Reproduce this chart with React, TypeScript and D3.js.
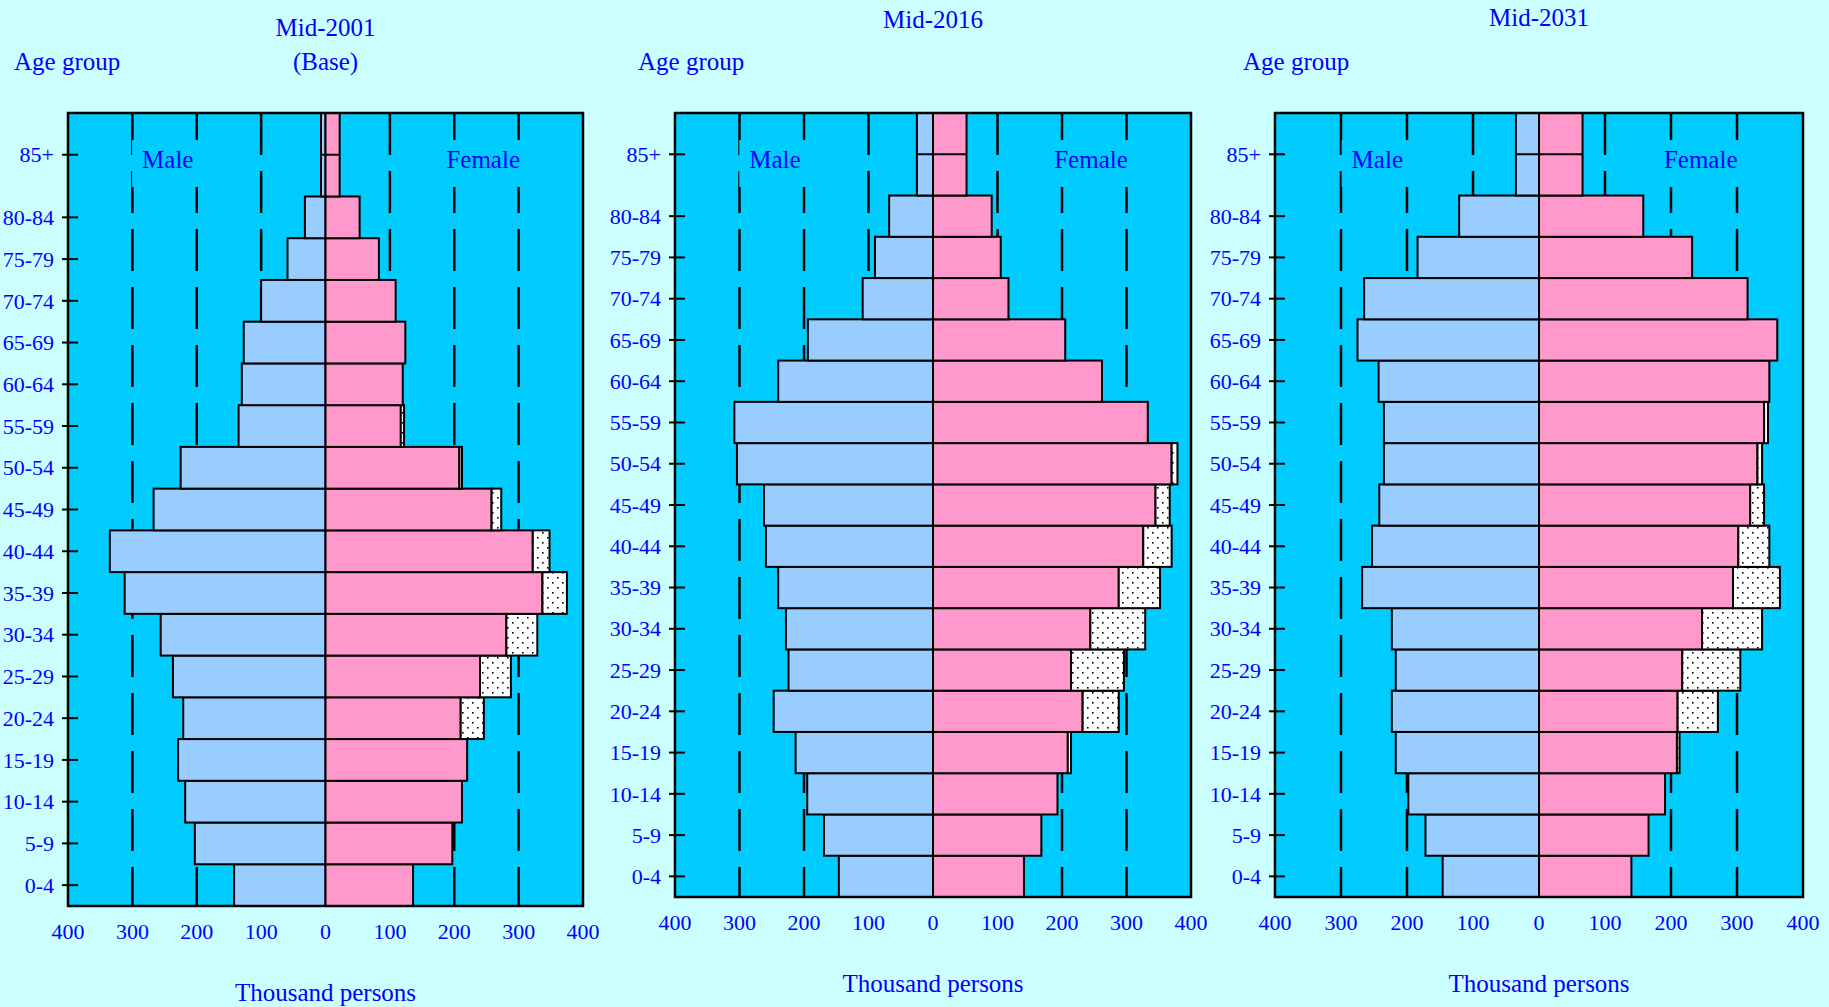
import React, { useEffect, useRef } from 'react';
import { select, scaleLinear } from 'd3';

// Age groups, bottom to top. "85+" covers two rows at the top.
const AGE_GROUPS = ['0-4', '5-9', '10-14', '15-19', '20-24', '25-29', '30-34', '35-39', '40-44',
  '45-49', '50-54', '55-59', '60-64', '65-69', '70-74', '75-79', '80-84', '85+'];

// Thousand persons
const MALE_2001 = [142, 203, 218, 229, 221, 237, 256, 312, 335, 267, 225, 135, 130, 127, 100, 59, 32, 7];
const FEMALE_2001 = [136, 197, 212, 220, 210, 240, 281, 337, 322, 258, 208, 117, 120, 124, 109, 83, 53, 22];
const EXTRA_2001 = [0, 0, 0, 0, 36, 48, 48, 38, 26, 15, 4, 5, 0, 0, 0, 0, 0, 0];

const MALE_2016 = [146, 169, 195, 213, 247, 224, 228, 240, 259, 262, 304, 308, 240, 194, 109, 90, 68, 25];
const FEMALE_2016 = [141, 168, 193, 209, 232, 214, 244, 288, 326, 345, 370, 333, 262, 205, 117, 105, 91, 52];
const EXTRA_2016 = [0, 0, 0, 5, 56, 82, 85, 64, 44, 22, 9, 0, 0, 0, 0, 0, 0, 0];

const MALE_2031 = [146, 172, 198, 217, 223, 217, 223, 268, 253, 242, 235, 235, 243, 275, 265, 184, 121, 35];
const FEMALE_2031 = [140, 166, 191, 209, 210, 217, 247, 294, 302, 320, 331, 341, 349, 361, 316, 232, 158, 66];
const EXTRA_2031 = [0, 0, 0, 4, 61, 88, 91, 71, 47, 21, 7, 6, 0, 0, 0, 0, 0, 0];

const X_TICKS = [-400, -300, -200, -100, 0, 100, 200, 300, 400];
const GRID_LINES = [-300, -200, -100, 100, 200, 300];

const PAGE_BG = '#ccffff';
const PLOT_BG = '#00ccff';
const MALE_COLOR = '#99ccff';
const FEMALE_COLOR = '#ff99cc';
const TEXT_COLOR = '#0000ff';
const FONT = '"Liberation Serif", "DejaVu Serif", serif';

const panels = [
  { title: ['Mid-2001', '(Base)'], titleY: 36, ageX: 14, left: 68, right: 583, top: 113, bottom: 906,
    male: MALE_2001, female: FEMALE_2001, extra: EXTRA_2001 },
  { title: ['Mid-2016'], titleY: 28, ageX: 638, left: 675, right: 1191, top: 113, bottom: 897,
    male: MALE_2016, female: FEMALE_2016, extra: EXTRA_2016 },
  { title: ['Mid-2031'], titleY: 26, ageX: 1243, left: 1275, right: 1803, top: 113, bottom: 897,
    male: MALE_2031, female: FEMALE_2031, extra: EXTRA_2031 },
];

export default function App() {
  const svgRef = useRef<SVGSVGElement>(null);

  useEffect(() => {
    if (!svgRef.current) return;
    const svg = select(svgRef.current);
    svg.selectAll('*').remove();

    svg.append('rect').attr('width', 1829).attr('height', 1007).attr('fill', PAGE_BG);

    const defs = svg.append('defs');
    const pat = defs.append('pattern')
      .attr('id', 'dots')
      .attr('patternUnits', 'userSpaceOnUse')
      .attr('width', 10)
      .attr('height', 10);
    pat.append('rect').attr('width', 10).attr('height', 10).attr('fill', 'white');
    pat.append('rect').attr('x', 2).attr('y', 2).attr('width', 1.6).attr('height', 1.6).attr('fill', 'black');
    pat.append('rect').attr('x', 7).attr('y', 7).attr('width', 1.6).attr('height', 1.6).attr('fill', 'black');

    panels.forEach(p => {
      const g = svg.append('g');
      const x = scaleLinear().domain([-400, 400]).range([p.left, p.right]);
      // rows: each age group is one row, 85+ spans rows 17..19
      const y = scaleLinear().domain([0, AGE_GROUPS.length + 1]).range([p.bottom, p.top]);
      const rowTop = (i: number) => (i === AGE_GROUPS.length - 1 ? y(i + 2) : y(i + 1));
      const rowMid = (i: number) => (i === AGE_GROUPS.length - 1 ? y(i + 1) : y(i + 0.5));

      // titles
      p.title.forEach((t, k) => {
        g.append('text')
          .attr('x', x(0))
          .attr('y', p.titleY + k * 34)
          .attr('text-anchor', 'middle')
          .attr('font-family', FONT)
          .attr('font-size', 25)
          .attr('fill', TEXT_COLOR)
          .text(t);
      });
      g.append('text')
        .attr('x', p.ageX)
        .attr('y', 70)
        .attr('font-family', FONT)
        .attr('font-size', 25)
        .attr('fill', TEXT_COLOR)
        .text('Age group');

      // plot area
      g.append('rect')
        .attr('x', p.left).attr('y', p.top)
        .attr('width', p.right - p.left).attr('height', p.bottom - p.top)
        .attr('fill', PLOT_BG);

      g.selectAll('line.grid')
        .data(GRID_LINES)
        .enter()
        .append('line')
        .attr('x1', d => x(d)).attr('x2', d => x(d))
        .attr('y1', p.top).attr('y2', p.bottom)
        .attr('stroke', 'black')
        .attr('stroke-width', 2.5)
        .attr('stroke-dasharray', '42,16');

      // Male / Female labels on a plot-coloured box
      [{ label: 'Male', v: -245 }, { label: 'Female', v: 245 }].forEach(l => {
        const t = g.append('text')
          .attr('x', x(l.v))
          .attr('y', 168)
          .attr('text-anchor', 'middle')
          .attr('font-family', FONT)
          .attr('font-size', 25)
          .attr('fill', TEXT_COLOR)
          .text(l.label);
        const w = (t.node() as SVGTextElement).getComputedTextLength() + 20;
        g.insert('rect', () => t.node())
          .attr('x', x(l.v) - w / 2)
          .attr('y', 140)
          .attr('width', w)
          .attr('height', 47)
          .attr('fill', PLOT_BG);
      });

      const rows = AGE_GROUPS.map((a, i) => ({
        age: a, i, male: p.male[i], female: p.female[i], extra: p.extra[i],
      }));

      const drawBar = (x0: number, x1: number, i: number, fill: string) => {
        g.append('rect')
          .attr('x', Math.min(x0, x1))
          .attr('y', rowTop(i))
          .attr('width', Math.abs(x1 - x0))
          .attr('height', y(i) - rowTop(i))
          .attr('fill', fill)
          .attr('stroke', 'black')
          .attr('stroke-width', 2);
      };

      rows.forEach(r => {
        drawBar(x(-r.male), x(0), r.i, MALE_COLOR);
        drawBar(x(0), x(r.female), r.i, FEMALE_COLOR);
        if (r.extra > 0) drawBar(x(r.female), x(r.female + r.extra), r.i, 'url(#dots)');
        if (r.i === AGE_GROUPS.length - 1) {
          g.append('line')
            .attr('x1', x(-r.male)).attr('x2', x(r.female))
            .attr('y1', y(r.i + 1)).attr('y2', y(r.i + 1))
            .attr('stroke', 'black').attr('stroke-width', 2);
        }
      });

      // frame
      g.append('rect')
        .attr('x', p.left).attr('y', p.top)
        .attr('width', p.right - p.left).attr('height', p.bottom - p.top)
        .attr('fill', 'none')
        .attr('stroke', 'black')
        .attr('stroke-width', 2.5);

      // y axis ticks and labels
      rows.forEach(r => {
        g.append('line')
          .attr('x1', p.left - 6).attr('x2', p.left + 10)
          .attr('y1', rowMid(r.i)).attr('y2', rowMid(r.i))
          .attr('stroke', 'black').attr('stroke-width', 2);
        g.append('text')
          .attr('x', p.left - 14)
          .attr('y', rowMid(r.i))
          .attr('dy', '0.35em')
          .attr('text-anchor', 'end')
          .attr('font-family', FONT)
          .attr('font-size', 22)
          .attr('fill', TEXT_COLOR)
          .text(r.age);
      });

      // x axis labels
      g.selectAll('text.xt')
        .data(X_TICKS)
        .enter()
        .append('text')
        .attr('x', d => x(d))
        .attr('y', p.bottom + 33)
        .attr('text-anchor', 'middle')
        .attr('font-family', FONT)
        .attr('font-size', 22)
        .attr('fill', TEXT_COLOR)
        .text(d => Math.abs(d));

      g.append('text')
        .attr('x', x(0))
        .attr('y', p.bottom + 95)
        .attr('text-anchor', 'middle')
        .attr('font-family', FONT)
        .attr('font-size', 25)
        .attr('fill', TEXT_COLOR)
        .text('Thousand persons');
    });
  }, []);

  return (
    <svg
      ref={svgRef}
      width={1829}
      height={1007}
      style={{ position: 'absolute', left: 0, top: 0, display: 'block' }}
    />
  );
}
